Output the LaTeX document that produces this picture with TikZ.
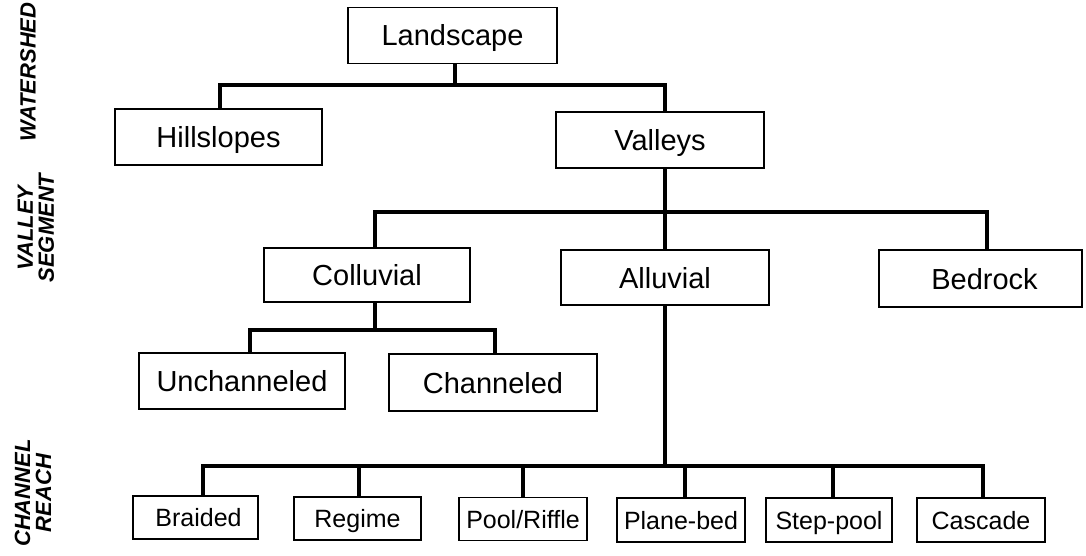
\documentclass[tikz,border=0pt]{standalone}
\usepackage{fontspec}
\setmainfont{Liberation Sans}
\begin{document}
\begin{tikzpicture}[x=1pt,y=-1pt,
  box/.style={draw,line width=1.8pt,inner sep=0pt,minimum height=56pt,text height=21pt,text depth=0pt,font=\fontsize{29}{34}\selectfont},
  sbox/.style={draw,line width=1.8pt,inner sep=0pt,minimum height=43pt,minimum width=127pt,text height=18pt,text depth=0pt,font=\fontsize{25}{30}\selectfont},
  conn/.style={line width=3.6pt,line join=miter},
  lvl/.style={rotate=90,font=\fontsize{22}{21}\selectfont\bfseries\itshape,align=center,inner sep=0pt}]
\useasboundingbox (0,0) rectangle (1086,556);

% level labels
\node[lvl] (ws) at (28,72) {WATERSHED};
\node[lvl] (vs) at (36,228) {VALLEY\\SEGMENT};
\node[lvl] (cr) at (33,493) {CHANNEL\\REACH};

% boxes
\node[box,minimum width=209pt] (land) at (452.5,35.5) {Landscape};
\node[box,minimum width=207pt] (hill) at (218.5,137) {Hillslopes};
\node[box,minimum width=208pt] (vall) at (660,140) {Valleys};
\node[box,minimum width=206pt,minimum height=54pt] (coll) at (367,275) {Colluvial};
\node[box,minimum width=208pt,minimum height=55pt] (allu) at (665,277.5) {Alluvial};
\node[box,minimum width=203pt,minimum height=57pt] (bed) at (980.5,278.5) {\hspace*{8pt}Bedrock};
\node[box,minimum width=206pt] (unch) at (242,381) {Unchanneled};
\node[box,minimum width=208pt,minimum height=57pt] (chan) at (493,382.5) {Channeled};
\node[sbox,minimum width=125pt] (braid) at (195.5,517.5) {\hspace*{6pt}Braided};
\node[sbox] (reg) at (357.5,518.5) {Regime};
\node[sbox,minimum width=128pt] (pool) at (523,519) {Pool/Riffle};
\node[sbox,minimum width=128pt,minimum height=44pt] (plane) at (681,520) {Plane-bed};
\node[sbox,minimum width=126pt,minimum height=44pt] (step) at (829,520) {Step-pool};
\node[sbox,minimum width=128pt,minimum height=44pt] (casc) at (981,520) {Cascade};

% bar coordinates
\coordinate (b1) at (455,85);
\coordinate (b2) at (665,212);
\coordinate (b3) at (375,330);
\coordinate (b4) at (665,466);

% connectors
\draw[conn] ([xshift=2.5pt]land.south) -- (b1);
\draw[conn] ([xshift=1.5pt]hill.north) |- (b1) -| (allu.north |- vall.north);
\draw[conn] (allu.north |- vall.south) -- (allu.north);
\draw[conn] ([xshift=8pt]coll.north) |- (b2) -| ([xshift=6.5pt]bed.north);
\draw[conn] ([xshift=8pt]coll.south) -- (b3);
\draw[conn] ([xshift=8pt]unch.north) |- (b3) -| ([xshift=2pt]chan.north);
\draw[conn] (allu.south) -- (b4);
\draw[conn] ([xshift=7.5pt]braid.north) |- (b4) -| ([xshift=2pt]casc.north);
\draw[conn] ([xshift=1.5pt]reg.north) -- ([xshift=1.5pt]reg.north |- b4);
\draw[conn] (pool.north) -- (pool.north |- b4);
\draw[conn] ([xshift=4pt]plane.north) -- ([xshift=4pt]plane.north |- b4);
\draw[conn] ([xshift=4pt]step.north) -- ([xshift=4pt]step.north |- b4);
\end{tikzpicture}
\end{document}
